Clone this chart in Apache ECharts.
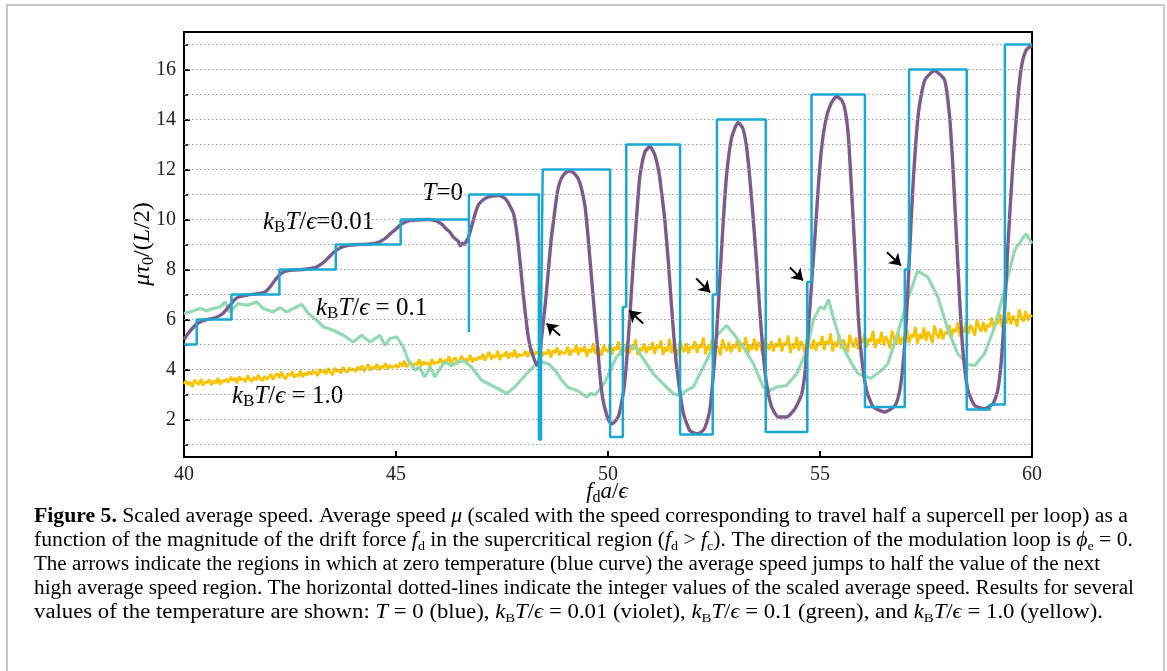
<!DOCTYPE html>
<html><head><meta charset="utf-8">
<script src="https://cdn.jsdelivr.net/npm/echarts@6/dist/echarts.min.js"></script>
<style>html,body{margin:0;padding:0;background:#fff}#c{width:1167px;height:671px}</style>
</head><body><div id="c"></div>
<script>
// ---------- data ----------
const xTicks = [40, 45, 50, 55, 60];
const yLabelTicks = [2, 4, 6, 8, 10, 12, 14, 16];
const yMinorTicks = [1, 3, 5, 7, 9, 11, 13, 15, 17];
const gridValues = [1,2,3,4,5,6,7,8,9,10,11,12,13,14,15,16,17];

// T = 0 (blue) step curve: [f_d a/eps, speed]
const blueT0 = [
 [40,5],[40.3,5],[40.3,6],[41.12,6],[41.12,7],[42.25,7],[42.25,8],[43.58,8],[43.58,9],
 [45.11,9],[45.11,10],[46.72,10],[46.72,5.5],[46.72,11],[48.37,11],[48.37,1.2],[48.42,1.2],
 [48.42,6],[48.46,6],[48.46,12],[50.05,12],[50.05,1.3],[50.35,1.3],[50.35,6.5],[50.43,6.5],
 [50.43,13],[51.7,13],[51.7,1.4],[52.47,1.4],[52.47,7],[52.57,7],[52.57,14],[53.72,14],
 [53.72,1.5],[54.7,1.5],[54.7,7.5],[54.8,7.5],[54.8,15],[56.06,15],[56.06,2.5],[57.0,2.5],
 [57.0,8],[57.1,8],[57.1,16],[58.46,16],[58.46,2.4],[59.01,2.4],[59.01,2.6],[59.36,2.6],
 [59.36,17],[60,17]
];

// kBT/eps = 0.01 (violet)
const violet001 = [
 [40,5.2],[40.1,5.45],[40.2,5.65],[40.3,5.82],[40.45,5.95],[40.6,6.02],[40.75,6.08],[40.9,6.22],
 [41.0,6.4],[41.1,6.6],[41.2,6.8],[41.32,6.92],[41.5,6.98],[41.7,7.02],[41.85,7.06],[41.95,7.15],
 [42.05,7.35],[42.15,7.58],[42.25,7.78],[42.38,7.92],[42.55,7.98],[42.8,8.0],[43.0,8.04],[43.15,8.12],
 [43.3,8.3],[43.42,8.5],[43.55,8.72],[43.7,8.88],[43.85,8.96],[44.1,9.0],[44.4,9.02],[44.6,9.1],
 [44.75,9.25],[44.88,9.45],[45.0,9.62],[45.13,9.82],[45.3,9.95],[45.5,9.98],[45.76,10.0],[45.9,9.97],
 [46.0,9.9],[46.1,9.78],[46.2,9.6],[46.27,9.5],[46.35,9.3],[46.42,9.2],[46.47,9.12],[46.52,8.95],[46.57,9.05],
 [46.62,9.0],[46.66,9.15],[46.7,9.25],[46.78,9.7],[46.86,10.2],[46.94,10.57],[47.05,10.78],[47.18,10.9],
 [47.3,10.95],[47.41,10.96],[47.52,10.9],[47.61,10.77],[47.7,10.5],[47.77,10.24],[47.83,9.7],[47.89,8.9],
 [47.95,7.9],[48.0,7.04],[48.06,6.1],[48.12,5.3],[48.18,4.8],[48.24,4.5],[48.32,4.17],[48.38,4.4],
 [48.43,5.2],[48.47,5.84],[48.52,6.6],[48.59,7.9],[48.66,9.2],[48.72,10.0],[48.8,11.03],[48.88,11.57],
 [48.99,11.86],[49.1,11.94],[49.2,11.85],[49.3,11.62],[49.38,11.2],[49.46,10.5],[49.52,9.5],[49.58,8.3],
 [49.64,7.1],[49.7,5.9],[49.76,4.8],[49.82,3.6],[49.88,2.8],[49.95,2.3],[50.02,1.95],[50.09,1.83],
 [50.18,1.95],[50.25,2.15],[50.33,2.76],[50.38,3.3],[50.44,4.36],[50.52,6.23],[50.6,8.37],[50.68,10.23],
 [50.75,11.7],[50.87,12.7],[50.99,12.92],[51.1,12.6],[51.2,11.9],[51.27,11.0],[51.34,9.97],[51.42,8.37],
 [51.5,6.5],[51.58,4.76],[51.66,3.56],[51.78,2.23],[51.93,1.56],[52.09,1.43],[52.2,1.5],[52.29,1.69],
 [52.4,2.36],[52.48,3.7],[52.56,5.43],[52.64,7.7],[52.72,9.97],[52.8,11.84],[52.92,13.3],[53.07,13.88],
 [53.18,13.65],[53.26,13.0],[53.32,12.1],[53.39,10.77],[53.5,8.37],[53.58,6.37],[53.66,4.63],[53.74,3.43],
 [53.86,2.5],[54.02,2.1],[54.21,2.1],[54.41,2.43],[54.57,3.03],[54.65,3.96],[54.73,5.7],[54.8,7.4],
 [54.88,9.3],[54.96,11.3],[55.04,12.9],[55.14,14.0],[55.25,14.6],[55.39,14.92],[55.52,14.75],[55.6,14.3],
 [55.67,13.3],[55.75,11.0],[55.83,8.5],[55.9,6.23],[55.98,4.5],[56.1,3.16],[56.26,2.5],[56.53,2.3],
 [56.77,2.56],[56.88,3.16],[56.96,4.23],[57.04,6.1],[57.12,8.9],[57.2,11.57],[57.32,14.24],[57.47,15.57],
 [57.7,15.95],[57.94,15.57],[58.05,14.24],[58.13,12.24],[58.21,9.57],[58.29,6.9],[58.37,4.76],[58.49,3.16],
 [58.65,2.56],[58.88,2.43],[59.08,2.63],[59.19,3.16],[59.27,4.23],[59.35,6.23],[59.43,8.9],[59.55,12.24],
 [59.67,14.9],[59.75,16.1],[59.86,16.77],[60.0,16.97]
];

// kBT/eps = 0.1 (green)
const green01 = [
 [40,6.24],[40.22,6.35],[40.38,6.44],[40.53,6.35],[40.69,6.44],[40.85,6.5],[40.97,6.7],[41.08,6.3],
 [41.28,6.64],[41.48,6.57],[41.71,6.7],[41.87,6.44],[42.1,6.3],[42.26,6.48],[42.42,6.3],[42.58,6.44],
 [42.78,6.6],[42.93,6.24],[43.13,5.97],[43.29,5.7],[43.52,5.57],[43.76,5.37],[43.99,5.1],[44.19,5.37],
 [44.39,5.1],[44.62,5.37],[44.74,4.97],[44.86,5.24],[45.02,5.3],[45.17,4.9],[45.29,4.37],[45.45,3.97],
 [45.55,4.1],[45.68,3.7],[45.8,4.1],[45.92,3.7],[46.04,4.05],[46.16,4.3],[46.3,4.15],[46.47,4.3],
 [46.6,4.35],[46.78,4.1],[47.02,3.57],[47.33,3.3],[47.61,3.04],[47.8,3.3],[47.96,3.6],[48.12,3.9],
 [48.28,4.17],[48.44,4.3],[48.6,4.22],[48.75,3.97],[48.91,3.57],[49.06,3.28],[49.26,3.17],[49.38,3.04],
 [49.5,2.9],[49.6,3.05],[49.69,2.98],[49.8,3.2],[49.93,3.5],[50.05,3.96],[50.2,4.5],[50.4,4.9],
 [50.52,4.96],[50.68,4.83],[50.83,4.43],[51.07,3.83],[51.3,3.43],[51.54,3.03],[51.7,2.96],[51.85,3.16],
 [52.01,3.3],[52.25,4.1],[52.44,4.76],[52.6,5.43],[52.8,5.76],[52.96,5.43],[53.19,4.9],[53.43,4.23],
 [53.66,3.3],[53.82,3.16],[53.98,3.3],[54.21,3.36],[54.45,3.83],[54.69,4.76],[54.84,5.96],[55.0,6.5],
 [55.1,6.42],[55.2,6.8],[55.31,6.1],[55.5,5.03],[55.75,4.23],[55.9,3.83],[56.2,3.65],[56.45,3.96],
 [56.6,4.23],[56.84,5.5],[57.07,6.8],[57.3,7.95],[57.54,7.7],[57.78,6.9],[58.02,5.57],[58.25,4.63],
 [58.49,4.2],[58.65,4.16],[58.88,4.63],[59.12,5.7],[59.35,7.17],[59.59,8.77],[59.86,9.43],[60,9.03]
];

// kBT/eps = 1.0 (yellow), sampled every 0.05 from 40 to 60
const yellowStart = 40, yellowStep = 0.05;
const yellow10 = [
 3.42,3.55,3.38,3.50,3.30,3.58,3.46,3.40,3.62,3.35,3.52,3.47,3.60,3.38,3.55,3.44,3.66,3.41,3.57,3.50,
 3.62,3.48,3.70,3.55,3.66,3.45,3.72,3.58,3.64,3.50,3.76,3.60,3.52,3.70,3.57,3.78,3.62,3.55,3.73,3.60,
 3.68,3.82,3.60,3.75,3.85,3.66,3.90,3.70,3.62,3.84,3.74,3.92,3.68,3.80,3.72,3.95,3.70,3.86,3.78,3.92,
 3.80,3.95,3.86,3.74,4.02,3.88,3.98,3.82,4.05,3.90,3.78,4.06,3.92,4.00,3.85,4.10,3.94,3.88,4.08,3.96,
 4.02,3.90,4.12,3.98,4.16,3.92,4.08,4.20,3.96,4.10,4.04,4.22,3.98,4.14,4.06,4.25,4.00,4.18,4.08,4.12,
 4.18,4.06,4.28,4.12,4.35,4.10,4.22,4.30,4.08,4.26,4.18,4.40,4.14,4.32,4.20,4.28,4.12,4.42,4.22,4.30,
 4.26,4.45,4.20,4.38,4.30,4.52,4.24,4.40,4.48,4.22,4.36,4.55,4.30,4.44,4.34,4.58,4.28,4.46,4.38,4.50,
 4.42,4.62,4.36,4.55,4.70,4.40,4.58,4.48,4.75,4.38,4.60,4.52,4.72,4.44,4.66,4.50,4.80,4.46,4.62,4.56,
 4.58,4.74,4.50,4.68,4.85,4.55,4.72,4.62,4.90,4.52,4.70,4.60,4.82,4.48,4.76,4.66,4.88,4.56,4.74,4.64,
 4.66,4.92,4.55,4.80,4.70,5.00,4.58,4.86,4.72,4.95,4.50,4.82,4.68,5.05,4.62,4.90,4.74,4.56,4.98,4.76,
 4.72,5.02,4.60,4.90,4.78,5.12,4.55,4.88,4.70,5.08,4.62,4.94,4.80,5.20,4.58,4.86,4.74,5.04,4.66,4.92,
 4.78,5.10,4.62,4.96,4.84,5.16,4.58,4.90,4.72,5.22,4.66,5.00,4.80,4.54,5.12,4.86,4.70,5.06,4.64,4.94,
 4.82,5.14,4.66,5.00,4.88,5.28,4.60,4.96,4.76,5.18,4.70,5.04,4.86,4.56,5.20,4.92,4.74,5.10,4.68,5.00,
 4.86,5.20,4.70,5.05,4.92,5.30,4.62,5.00,4.80,5.24,4.74,5.10,4.90,4.58,5.26,4.96,4.78,5.14,4.72,5.04,
 4.90,5.26,4.72,5.08,4.96,5.36,4.66,5.04,4.84,5.30,4.76,5.14,4.94,4.60,5.32,5.00,4.82,5.20,4.74,5.08,
 4.96,5.34,4.78,5.14,5.02,5.44,4.72,5.10,4.90,5.38,4.82,5.20,5.00,4.68,5.40,5.08,4.88,5.28,4.80,5.16,
 5.06,5.42,4.90,5.24,5.12,5.55,4.86,5.22,5.04,5.50,4.96,5.34,5.14,4.84,5.56,5.22,5.02,5.44,4.98,5.30,
 5.20,5.58,5.06,5.40,5.28,5.70,5.04,5.42,5.22,5.68,5.14,5.52,5.34,5.06,5.76,5.42,5.24,5.64,5.20,5.50,
 5.42,5.78,5.30,5.62,5.50,5.90,5.32,5.68,5.48,5.94,5.42,5.78,5.60,5.36,6.00,5.70,5.52,5.90,5.50,5.80,
 5.70,6.08,5.60,5.94,5.82,6.22,5.66,6.02,5.84,6.30,5.80,6.16,5.98,5.72,6.40,6.08,5.92,6.34,5.96,6.20,
 6.10
];

// arrows (tail -> head), data coordinates
const arrows = [
 [[48.87,5.36],[48.55,5.84]],
 [[50.83,5.84],[50.5,6.36]],
 [[52.08,7.64],[52.41,7.08]],
 [[54.29,8.08],[54.6,7.56]],
 [[56.58,8.69],[56.91,8.16]]
];

// ---------- styles ----------
const C_BLUE = '#17a9d3', C_VIO = '#7b5a8c', C_GRN = '#93d9b3', C_YEL = '#f8c300';
const SERIF = '"Liberation Serif","DejaVu Serif",serif';

const yellowData = yellow10.map((v, i) => [yellowStart + i * yellowStep, v]);

const chart = echarts.init(document.getElementById('c'), null, {renderer: 'canvas'});

function mathRich(color, size) {
  return {
    i: {fontFamily: SERIF, fontStyle: 'italic', fontSize: size, color: color, lineHeight: size + 4},
    n: {fontFamily: SERIF, fontSize: size, color: color, lineHeight: size + 4},
    s: {fontFamily: SERIF, fontSize: Math.round(size * 0.68), color: color, lineHeight: Math.round(size * 0.68) + 1, verticalAlign: 'bottom'}
  };
}
const CAP = 20;
function capRich() {
  return {
    b: {fontFamily: SERIF, fontWeight: 'bold', fontSize: CAP, color: '#111', lineHeight: CAP + 4},
    n: {fontFamily: SERIF, fontSize: CAP, color: '#111', lineHeight: CAP + 4},
    i: {fontFamily: SERIF, fontStyle: 'italic', fontSize: CAP, color: '#111', lineHeight: CAP + 4},
    s: {fontFamily: SERIF, fontSize: 13, color: '#111', lineHeight: 15, verticalAlign: 'bottom'}
  };
}
const mctx = document.createElement('canvas').getContext('2d');
function measureRich(str, rich) {
  let w = 0;
  str.replace(/\{(\w+)\|([^}]*)\}/g, (m, k, t) => {
    const s = rich[k];
    mctx.font = (s.fontStyle || 'normal') + ' ' + (s.fontWeight || 'normal') + ' ' + s.fontSize + 'px ' + s.fontFamily;
    w += mctx.measureText(t).width;
    return m;
  });
  return w;
}

const captionLines = [
 '{b|Figure 5.}{n| Scaled average speed. Average speed }{i|μ}{n| (scaled with the speed corresponding to travel half a supercell per loop) as a}',
 '{n|function of the magnitude of the drift force }{i|f}{s|d}{n| in the supercritical region (}{i|f}{s|d}{n| > }{i|f}{s|c}{n|). The direction of the modulation loop is }{i|ϕ}{s|e}{n| = 0.}',
 '{n|The arrows indicate the regions in which at zero temperature (blue curve) the average speed jumps to half the value of the next}',
 '{n|high average speed region. The horizontal dotted-lines indicate the integer values of the scaled average speed. Results for several}',
 '{n|values of the temperature are shown: }{i|T}{n| = 0 (blue), }{i|k}{s|B}{i|T}{n|/}{i|ϵ}{n| = 0.01 (violet), }{i|k}{s|B}{i|T}{n|/}{i|ϵ}{n| = 0.1 (green), and }{i|k}{s|B}{i|T}{n|/}{i|ϵ}{n| = 1.0 (yellow).}'
];
const captionY = [517, 541, 565, 589, 613];
const captionRight = [1128, 1133, 1100, 1134, 1103];
const captionLeft = 34;

const graphics = [
  {type: 'rect', shape: {x: 7, y: 5, width: 1157, height: 700}, style: {fill: 'none', stroke: '#b5b5b5', lineWidth: 1.5}, silent: true, z: -10},
  {type: 'text', x: 143, y: 244, rotation: Math.PI / 2,
   style: {text: '{i|μτ}{s|0}{n|/(}{i|L}{n|/2)}', rich: mathRich('#111', 24), align: 'center', verticalAlign: 'middle'}},
  {type: 'text', x: 607, y: 492,
   style: {text: '{i|f}{s|d}{i|a}{n|/}{i|ϵ}', rich: mathRich('#111', 23), align: 'center', verticalAlign: 'middle'}},
  {type: 'text', x: 463, y: 193,
   style: {text: '{i|T}{n|=0}', rich: mathRich(C_BLUE, 25), align: 'right', verticalAlign: 'middle'}},
  {type: 'text', x: 263, y: 222,
   style: {text: '{i|k}{s|B}{i|T}{n|/}{i|ϵ}{n|=0.01}', rich: mathRich(C_VIO, 25), align: 'left', verticalAlign: 'middle'}},
  {type: 'text', x: 316, y: 308,
   style: {text: '{i|k}{s|B}{i|T}{n|/}{i|ϵ}{n| = 0.1}', rich: mathRich('#7fd3a6', 25), align: 'left', verticalAlign: 'middle'}},
  {type: 'text', x: 232, y: 396,
   style: {text: '{i|k}{s|B}{i|T}{n|/}{i|ϵ}{n| = 1.0}', rich: mathRich(C_YEL, 25), align: 'left', verticalAlign: 'middle'}}
];
captionLines.forEach((t, k) => {
  const rich = capRich();
  const w = measureRich(t, rich);
  const sx = w > 0 ? (captionRight[k] - captionLeft) / w : 1;
  graphics.push({type: 'text', x: captionLeft, y: captionY[k], scaleX: sx,
    style: {text: t, rich: rich, align: 'left', verticalAlign: 'middle'}});
});

const option = {
  backgroundColor: '#fff',
  animation: false,
  grid: {left: 184, top: 32, width: 848, height: 425, show: true, borderColor: '#000', borderWidth: 2, backgroundColor: 'transparent', containLabel: false},
  xAxis: {
    type: 'value', min: 40, max: 60, interval: 5,
    axisLine: {show: false},
    axisTick: {show: true, inside: true, length: 6, lineStyle: {color: '#000', width: 2}},
    axisLabel: {color: '#222', fontFamily: SERIF, fontSize: 20, margin: 8},
    splitLine: {show: false}
  },
  yAxis: [
    {type: 'value', min: 0.5, max: 17.5,
     axisLine: {show: false},
     axisTick: {show: true, inside: true, length: 6, customValues: yLabelTicks, lineStyle: {color: '#000', width: 2}},
     axisLabel: {color: '#222', fontFamily: SERIF, fontSize: 20, margin: 8, customValues: yLabelTicks},
     splitLine: {show: false}},
    {type: 'value', min: 0.5, max: 17.5, position: 'left',
     axisLine: {show: false},
     axisTick: {show: true, inside: true, length: 4, customValues: yMinorTicks, lineStyle: {color: '#000', width: 1.5}},
     axisLabel: {show: false},
     splitLine: {show: false}}
  ],
  series: [
    {name: 'kBT=1.0', type: 'line', data: yellowData, showSymbol: false, symbol: 'none',
     lineStyle: {color: C_YEL, width: 2.7}, z: 2, silent: true,
     markLine: {silent: true, symbol: 'none', label: {show: false},
       lineStyle: {color: '#9a9a9a', type: [1.5, 2.5], width: 1},
       data: gridValues.map(v => ({yAxis: v}))}},
    {name: 'kBT=0.1', type: 'line', data: green01, showSymbol: false, symbol: 'none',
     lineStyle: {color: C_GRN, width: 3.2}, z: 3, silent: true},
    {name: 'kBT=0.01', type: 'line', data: violet001, showSymbol: false, symbol: 'none', smooth: 0.2,
     lineStyle: {color: C_VIO, width: 3.4}, z: 4, silent: true},
    {name: 'T=0', type: 'line', data: blueT0, showSymbol: false, symbol: 'none',
     lineStyle: {color: C_BLUE, width: 2.5}, z: 5, silent: true,
     markLine: {silent: true, symbol: ['none', 'arrow'], symbolSize: 11, label: {show: false},
       lineStyle: {color: '#000', type: 'solid', width: 1.8},
       data: arrows.map(a => [{coord: a[0]}, {coord: a[1]}])}}
  ],
  graphic: graphics
};
chart.setOption(option);
</script>
</body></html>
